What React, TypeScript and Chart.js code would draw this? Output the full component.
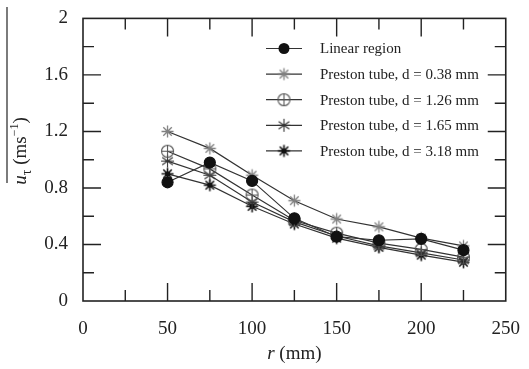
import React, { useEffect, useRef } from "react";
import { Chart, registerables } from "chart.js";
Chart.register(...registerables);

const radiusMM = [50, 75, 100, 125, 150, 175, 200, 225];
const linearRegion = [0.84, 0.98, 0.85, 0.585, 0.455, 0.43, 0.44, 0.36];
const preston038 = [1.2, 1.08, 0.89, 0.71, 0.58, 0.525, 0.445, 0.39];
const preston126 = [1.06, 0.935, 0.75, 0.57, 0.48, 0.41, 0.365, 0.31];
const preston165 = [0.99, 0.89, 0.7, 0.56, 0.46, 0.39, 0.34, 0.29];
const preston318 = [0.9, 0.82, 0.67, 0.545, 0.445, 0.38, 0.325, 0.275];
const legendLabels = [
  "Linear region",
  "Preston tube, d = 0.38 mm",
  "Preston tube, d = 1.26 mm",
  "Preston tube, d = 1.65 mm",
  "Preston tube, d = 3.18 mm",
];

const SERIF = "'Liberation Serif', 'Times New Roman', serif";
const LINE = "#333";

function makeMarker(kind: string): HTMLCanvasElement {
  const s = 17;
  const c = document.createElement("canvas");
  c.width = s;
  c.height = s;
  const g = c.getContext("2d")!;
  const m = s / 2;
  g.lineCap = "butt";
  const spokes = (r: number, angles: number[], color: string, lw: number) => {
    g.strokeStyle = color;
    g.lineWidth = lw;
    g.beginPath();
    for (const a of angles) {
      const rad = (a * Math.PI) / 180;
      g.moveTo(m - r * Math.cos(rad), m - r * Math.sin(rad));
      g.lineTo(m + r * Math.cos(rad), m + r * Math.sin(rad));
    }
    g.stroke();
  };
  if (kind === "grayStar") {
    spokes(6, [0, 45, 90, 135], "#808080", 1.3);
  } else if (kind === "circlePlus") {
    g.strokeStyle = "#555";
    g.lineWidth = 1.1;
    g.beginPath();
    g.arc(m, m, 6, 0, Math.PI * 2);
    g.stroke();
    spokes(6, [0, 90], "#555", 1.1);
  } else if (kind === "thinStar") {
    spokes(6.5, [0, 90, 35, 145], "#333", 1.1);
  } else if (kind === "boldStar") {
    spokes(6, [0, 45, 90, 135], "#111", 1.6);
    g.fillStyle = "#111";
    g.beginPath();
    g.arc(m, m, 2.6, 0, Math.PI * 2);
    g.fill();
  }
  return c;
}

export default function App() {
  const ref = useRef<HTMLCanvasElement>(null);
  useEffect(() => {
    const markers = {
      grayStar: makeMarker("grayStar"),
      circlePlus: makeMarker("circlePlus"),
      thinStar: makeMarker("thinStar"),
      boldStar: makeMarker("boldStar"),
    };
    const toPts = (arr: number[]) => arr.map((v, i) => ({ x: radiusMM[i], y: v }));
    const base = {
      borderColor: LINE,
      borderWidth: 1.2,
      showLine: true,
      tension: 0,
      pointRadius: 6,
    };
    const datasets: any[] = [
      { ...base, label: legendLabels[0], data: toPts(linearRegion), pointStyle: "circle", pointRadius: 5.5, pointBackgroundColor: "#111", pointBorderColor: "#111" },
      { ...base, label: legendLabels[1], data: toPts(preston038), pointStyle: markers.grayStar },
      { ...base, label: legendLabels[2], data: toPts(preston126), pointStyle: markers.circlePlus },
      { ...base, label: legendLabels[3], data: toPts(preston165), pointStyle: markers.thinStar },
      { ...base, label: legendLabels[4], data: toPts(preston318), pointStyle: markers.boldStar },
    ];
    const legendMarkers = ["circle", markers.grayStar, markers.circlePlus, markers.thinStar, markers.boldStar];

    const decor = {
      id: "decor",
      afterDraw(chart: any) {
        const ctx = chart.ctx as CanvasRenderingContext2D;
        const { left, right, top, bottom } = chart.chartArea;
        const xs = chart.scales.x;
        const ys = chart.scales.y;
        ctx.save();
        ctx.strokeStyle = "#222";
        ctx.lineWidth = 1.6;
        ctx.strokeRect(left, top, right - left, bottom - top);
        ctx.lineWidth = 1.4;
        ctx.beginPath();
        for (let v = 25; v < 250; v += 25) {
          const len = v % 50 === 0 ? 18 : 11;
          const px = xs.getPixelForValue(v);
          ctx.moveTo(px, bottom);
          ctx.lineTo(px, bottom - len);
          ctx.moveTo(px, top);
          ctx.lineTo(px, top + len);
        }
        for (let k = 1; k < 10; k++) {
          const v = k * 0.2;
          const len = k % 2 === 0 ? 18 : 11;
          const py = ys.getPixelForValue(v);
          ctx.moveTo(left, py);
          ctx.lineTo(left + len, py);
          ctx.moveTo(right, py);
          ctx.lineTo(right - len, py);
        }
        ctx.stroke();

        // legend
        ctx.font = `15px ${SERIF}`;
        ctx.textBaseline = "middle";
        ctx.textAlign = "left";
        legendLabels.forEach((lab, i) => {
          const y = 48.5 + i * 25.6;
          ctx.strokeStyle = LINE;
          ctx.lineWidth = 1.2;
          ctx.beginPath();
          ctx.moveTo(266, y);
          ctx.lineTo(302, y);
          ctx.stroke();
          const mk = legendMarkers[i];
          if (mk === "circle") {
            ctx.fillStyle = "#111";
            ctx.beginPath();
            ctx.arc(284, y, 5.5, 0, Math.PI * 2);
            ctx.fill();
          } else {
            const c = mk as HTMLCanvasElement;
            ctx.drawImage(c, 284 - c.width / 2, y - c.height / 2);
          }
          ctx.fillStyle = "#222";
          ctx.fillText(lab, 320, y + 1);
        });

        // x title
        ctx.fillStyle = "#222";
        ctx.textBaseline = "alphabetic";
        const italic = `italic 19px ${SERIF}`;
        const normal = `19px ${SERIF}`;
        ctx.font = italic;
        const wr = ctx.measureText("r").width;
        ctx.font = normal;
        const wm = ctx.measureText(" (mm)").width;
        const cx = (left + right) / 2;
        const x0 = cx - (wr + wm) / 2;
        ctx.font = italic;
        ctx.fillText("r", x0, 359);
        ctx.font = normal;
        ctx.fillText(" (mm)", x0 + wr, 359);

        // y title (rotated)
        ctx.save();
        ctx.translate(26, 151);
        ctx.rotate(-Math.PI / 2);
        const parts: [string, string, number][] = [
          ["u", italic, 0],
          ["τ", `14px ${SERIF}`, 5],
          [" (ms", normal, 0],
          ["−1", `12px ${SERIF}`, -8],
          [")", normal, 0],
        ];
        let total = 0;
        for (const [t, f] of parts) {
          ctx.font = f;
          total += ctx.measureText(t).width;
        }
        let px = -total / 2;
        for (const [t, f, dy] of parts) {
          ctx.font = f;
          ctx.fillText(t, px, dy);
          px += ctx.measureText(t).width;
        }
        ctx.restore();
        // overline
        ctx.strokeStyle = "#444";
        ctx.lineWidth = 1.4;
        ctx.beginPath();
        ctx.moveTo(7, 7);
        ctx.lineTo(7, 183);
        ctx.stroke();
        ctx.restore();
      },
    };

    const chart = new Chart(ref.current!, {
      type: "scatter",
      data: { datasets },
      options: {
        animation: false,
        responsive: false,
        layout: { padding: { top: 15, right: 17, left: 0, bottom: 0 } },
        plugins: { legend: { display: false }, tooltip: { enabled: false } },
        scales: {
          x: {
            type: "linear",
            min: 0,
            max: 250,
            grid: { display: false },
            border: { display: false },
            ticks: { stepSize: 50, padding: 9, color: "#222", font: { family: SERIF, size: 19 } },
            afterFit: (s: any) => { s.height = 68; },
          },
          y: {
            type: "linear",
            min: 0,
            max: 2,
            grid: { display: false },
            border: { display: false },
            ticks: {
              stepSize: 0.4,
              padding: 7,
              color: "#222",
              font: { family: SERIF, size: 19 },
              callback: (v: any) => String(Number(Number(v).toFixed(1))),
            },
            afterFit: (s: any) => { s.width = 83; },
          },
        },
      },
      plugins: [decor],
    });
    return () => chart.destroy();
  }, []);
  return (
    <div style={{ position: "absolute", left: 0, top: 0, width: 529, height: 369, background: "#fff" }}>
      <canvas ref={ref} width={529} height={369} />
    </div>
  );
}
